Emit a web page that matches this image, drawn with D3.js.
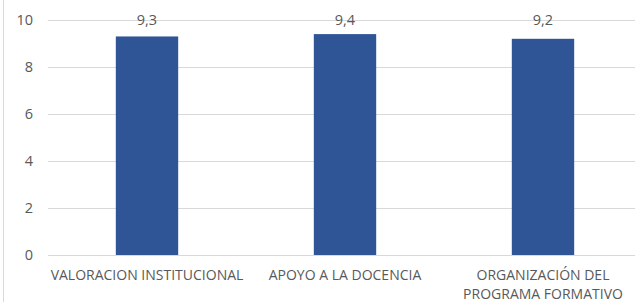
<!DOCTYPE html>
<html>
<script src="https://d3js.org/d3.v7.min.js"></script>
<style>
  body { margin: 0; background: #fff; }
  text { font-family: "Open Sans", sans-serif; fill: #595959; }
</style>
<body>
<div id="chart"></div>
<script>
  const categories = ["VALORACION INSTITUCIONAL", "APOYO A LA DOCENCIA", "ORGANIZACIÓN DEL PROGRAMA FORMATIVO"];
  const catLines = [["VALORACION INSTITUCIONAL"], ["APOYO A LA DOCENCIA"], ["ORGANIZACIÓN DEL", "PROGRAMA FORMATIVO"]];
  const values = [9.3, 9.4, 9.2];
  const valueLabels = ["9,3", "9,4", "9,2"];
  const yTicks = [0, 2, 4, 6, 8, 10];

  const width = 635, height = 302;
  const margin = { top: 20, right: -7, bottom: 47, left: 48 };

  const svg = d3.select("#chart").append("svg")
    .attr("width", width)
    .attr("height", height);

  // chart border on the left
  svg.append("line")
    .attr("x1", 3.5).attr("x2", 3.5)
    .attr("y1", 0).attr("y2", height)
    .attr("stroke", "#d9d9d9");

  const x = d3.scaleBand()
    .domain(categories)
    .range([margin.left, width - margin.right])
    .paddingInner(0.685)
    .paddingOuter(0.3425);

  const y = d3.scaleLinear()
    .domain([0, 10])
    .range([height - margin.bottom, margin.top]);

  // gridlines
  svg.append("g")
    .selectAll("line")
    .data(yTicks)
    .join("line")
    .attr("x1", margin.left)
    .attr("x2", width)
    .attr("y1", d => Math.round(y(d)) + 0.5)
    .attr("y2", d => Math.round(y(d)) + 0.5)
    .attr("stroke", "#d9d9d9")
    .attr("stroke-width", 1);

  // y tick labels
  svg.append("g")
    .selectAll("text")
    .data(yTicks)
    .join("text")
    .attr("x", 33)
    .attr("y", d => y(d))
    .attr("dy", "0.35em")
    .attr("text-anchor", "end")
    .style("font-size", "14.5px")
    .text(d => d);

  // bars
  svg.append("g")
    .selectAll("rect")
    .data(values)
    .join("rect")
    .attr("x", (d, i) => x(categories[i]))
    .attr("width", x.bandwidth())
    .attr("y", d => y(d))
    .attr("height", d => y(0) - y(d))
    .attr("fill", "#2f5597");

  // value labels
  svg.append("g")
    .selectAll("text")
    .data(values)
    .join("text")
    .attr("x", (d, i) => x(categories[i]) + x.bandwidth() / 2)
    .attr("y", 25)
    .attr("text-anchor", "middle")
    .style("font-size", "14.5px")
    .text((d, i) => valueLabels[i]);

  // category labels
  const cat = svg.append("g")
    .selectAll("text")
    .data(categories)
    .join("text")
    .attr("x", d => x(d) + x.bandwidth() / 2)
    .attr("y", 280)
    .attr("text-anchor", "middle")
    .style("font-size", "14px");

  cat.selectAll("tspan")
    .data((d, i) => catLines[i])
    .join("tspan")
    .attr("x", function () { return d3.select(this.parentNode).attr("x"); })
    .attr("dy", (d, j) => j === 0 ? 0 : 19)
    .text(d => d);
</script>
</body>
</html>
